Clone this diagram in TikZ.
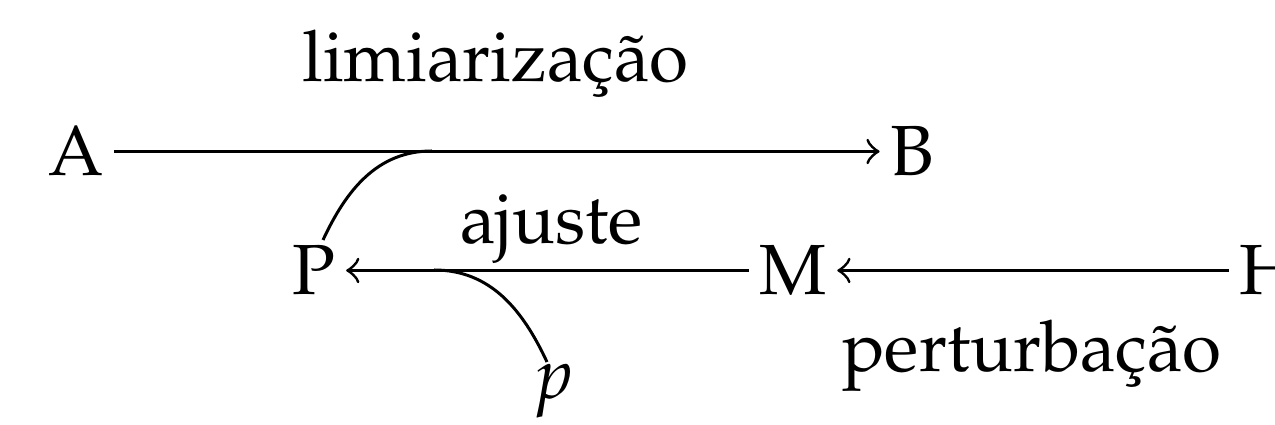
\documentclass[tikz,border=0pt]{standalone}
\usepackage[T1]{fontenc}
\usepackage{mathpazo}
\begin{document}
\begin{tikzpicture}[x=0.1408pt,y=-0.1408pt,
  obj/.style={anchor=base,inner xsep=1.3pt,inner ysep=0pt},
  lbl/.style={anchor=base,inner sep=0pt},
  every path/.style={line width=0.42pt}]
\useasboundingbox (0,0) rectangle (1275,425);
\node[obj] (A) at (76,176) {A};
\node[obj] (B) at (912,176) {B};
\node[obj] (P) at (314,295) {P};
\node[obj] (M) at (793,295) {M};
\node[obj] (H) at (1269,295) {H};
\node[obj] (p) at (553,399) {$p$};
\node[lbl] (l1) at (495.5,82) {limiariza\c{c}\~ao};
\node[lbl] (l2) at (551.5,244) {ajuste};
\node[lbl] (l3) at (1032,372) {perturba\c{c}\~ao};
\draw[->] (A) -- (B);
\draw[->] (M) -- (P);
\draw[->] (H) -- (M);
\coordinate (c1) at (432,151);
\coordinate (e1) at (323,240);
\coordinate (c2) at (434,270);
\coordinate (e2) at (547,362);
\draw (c1) to[out=180,in=65] (e1);
\draw (c2) to[out=0,in=115] (e2);
\end{tikzpicture}
\end{document}
